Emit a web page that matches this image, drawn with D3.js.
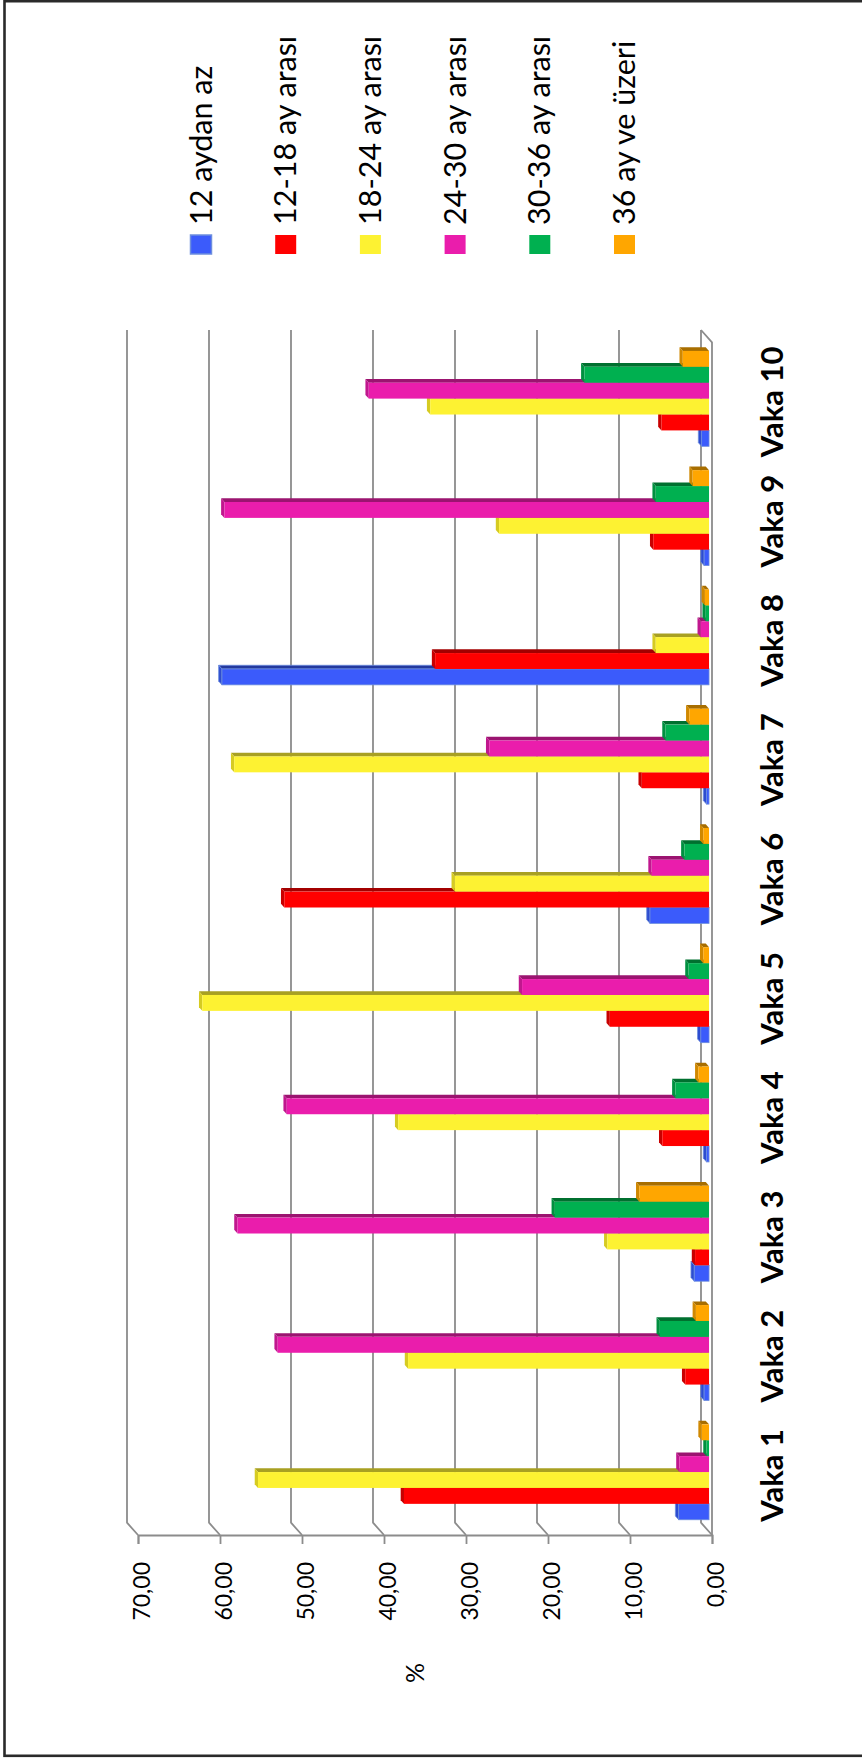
<!DOCTYPE html>
<html>
<head>
<meta charset="utf-8">
<script src="https://cdn.jsdelivr.net/npm/d3@7/dist/d3.min.js"></script>
<style>
  html, body { margin: 0; padding: 0; background: #fff; }
  svg { display: block; }
  text { font-family: Lato, "Open Sans", "Liberation Sans", sans-serif; fill: #000; }
</style>
</head>
<body>
<svg id="chart" width="862" height="1760"></svg>
<script>
// Cases (categories) and age-band series, in percent
const categories = ["Vaka 1", "Vaka 2", "Vaka 3", "Vaka 4", "Vaka 5",
                    "Vaka 6", "Vaka 7", "Vaka 8", "Vaka 9", "Vaka 10"];
const seriesNames = ["12 aydan az", "12-18 ay arası", "18-24 ay arası",
                     "24-30 ay arası", "30-36 ay arası", "36 ay ve üzeri"];
const under12   = [3.7, 0.6, 1.8, 0.3, 1.0, 7.2, 0.3, 59.4, 0.6, 0.9];
const m12to18   = [37.2, 2.9, 1.7, 5.7, 12.1, 51.8, 8.2, 33.4, 6.8, 5.8];
const m18to24   = [55.0, 36.7, 12.4, 37.9, 61.8, 31.0, 57.9, 6.5, 25.6, 34.0];
const m24to30   = [3.6, 52.6, 57.5, 51.5, 22.8, 7.0, 26.8, 1.0, 59.1, 41.5];
const m30to36   = [0.3, 6.0, 18.8, 4.1, 2.5, 3.0, 5.3, 0.4, 6.5, 15.2];
const over36    = [0.9, 1.6, 8.5, 1.3, 0.7, 0.7, 2.4, 0.5, 2.0, 3.2];
const seriesValues = [under12, m12to18, m18to24, m24to30, m30to36, over36];
const valueTicks = [0, 10, 20, 30, 40, 50, 60, 70];
const axisTitle = "%";

// face colours: front, top (depth side), end cap
const palette = [
  { front: "#3b5bfb", top: "#24399e", end: "#2d4cd0", stroke: "#6d8ede" },
  { front: "#ff0000", top: "#a30000", end: "#c80000", stroke: null },
  { front: "#fdf232", top: "#a8a022", end: "#d6cb22", stroke: null },
  { front: "#ea1dac", top: "#9b1470", end: "#c0178e", stroke: null },
  { front: "#00b050", top: "#00702f", end: "#009040", stroke: null },
  { front: "#ffa600", top: "#a86e00", end: "#d08800", stroke: null }
];

const svg = d3.select("#chart");

// outer frame
svg.append("rect")
  .attr("x", 4.5).attr("y", 1.2).attr("width", 1000).attr("height", 1754.6)
  .attr("fill", "none").attr("stroke", "#2a2a2a").attr("stroke-width", 2.6);

// oblique projection: d = 0 back wall, d = 1 front plane
const DX = 11, DY = 12.3;
const P = (xf, yf, d) => [xf - DX * (1 - d), yf - DY * (1 - d)];

const plotTop = 342.3, plotBottom = 1535;
const x = d3.scaleLinear().domain([0, 70]).range([712, 138]);
const y = d3.scaleBand()
  .domain(categories.slice().reverse())
  .range([plotTop, plotBottom])
  .paddingInner(0.2).paddingOuter(0.1);
const yInner = d3.scaleBand().domain(seriesNames).range([y.bandwidth(), 0]);

const gridColor = "#8c8c8c";

// back-wall gridlines bending onto the side wall
const grid = svg.append("g").attr("fill", "none").attr("stroke", gridColor).attr("stroke-width", 1.8);
grid.selectAll("path.grid").data(valueTicks).join("path")
  .attr("class", "grid")
  .attr("d", v => {
    const a = P(x(v), plotTop, 0), b = P(x(v), plotBottom, 0), c = P(x(v), plotBottom, 1);
    return `M${a}L${b}L${c}`;
  });
// floor edge at zero
grid.append("path").attr("d", () => {
  const a = P(x(0), plotTop, 0), b = P(x(0), plotTop, 1), c = P(x(0), plotBottom, 1);
  return `M${a}L${b}L${c}`;
});

// value axis
const fmt = v => d3.format(".2f")(v).replace(".", ",");
const xAxis = svg.append("g")
  .attr("transform", `translate(0,${plotBottom})`)
  .call(d3.axisBottom(x).tickValues(valueTicks).tickSize(9).tickSizeOuter(9).tickFormat(fmt));
xAxis.selectAll("path, line").attr("stroke", gridColor).attr("stroke-width", 1.8);
xAxis.selectAll("text")
  .attr("x", 0).attr("y", 0).attr("dy", 0)
  .attr("transform", "translate(11.5,27) rotate(-90)")
  .attr("text-anchor", "end")
  .style("font-size", "23px")
  .style("font-family", "Lato, 'Open Sans', sans-serif")
  .attr("fill", "#000");

svg.append("text")
  .attr("transform", "translate(424,1673) rotate(-90)")
  .attr("text-anchor", "middle")
  .style("font-size", "25px")
  .text(axisTitle);

// bars
const dFront = 0.73, dBack = 0.43;
const bars = svg.append("g");
categories.forEach((cat, ci) => {
  const g = bars.append("g");
  seriesNames.forEach((s, si) => {
    const v = seriesValues[si][ci];
    const col = palette[si];
    const y0 = y(cat) + yInner(s), y1 = y0 + yInner.bandwidth();
    const xl = x(v), xr = x(0);
    const poly = pts => pts.map(p => p.join(",")).join(" ");
    const stroke = col.stroke || "none";
    // depth side
    g.append("polygon")
      .attr("points", poly([P(xl, y0, dFront), P(xr, y0, dFront), P(xr, y0, dBack), P(xl, y0, dBack)]))
      .attr("fill", col.top).attr("stroke", stroke).attr("stroke-width", 0.8);
    // end cap
    g.append("polygon")
      .attr("points", poly([P(xl, y0, dFront), P(xl, y1, dFront), P(xl, y1, dBack), P(xl, y0, dBack)]))
      .attr("fill", col.end).attr("stroke", stroke).attr("stroke-width", 0.8);
    // front face
    const f0 = P(xl, y0, dFront), f1 = P(xr, y1, dFront);
    g.append("rect")
      .attr("x", f0[0]).attr("y", f0[1])
      .attr("width", f1[0] - f0[0]).attr("height", f1[1] - f0[1])
      .attr("fill", col.front).attr("stroke", stroke).attr("stroke-width", 0.8);
  });
});

// category axis labels
const yAxis = svg.append("g")
  .call(d3.axisRight(y).tickSize(0));
yAxis.select(".domain").remove();
yAxis.selectAll("text")
  .attr("x", 0).attr("dy", 0)
  .attr("transform", "translate(783,0) rotate(-90)")
  .attr("text-anchor", "middle")
  .style("font-size", "31px")
  .style("font-weight", "bold")
  .style("font-family", "Lato, 'Open Sans', sans-serif")
  .attr("fill", "#000");

// legend
const legend = svg.append("g");
const legendX = i => 201 + i * 84.7;
const items = legend.selectAll("g.item").data(seriesNames).join("g")
  .attr("class", "item");
items.append("rect")
  .attr("x", (d, i) => legendX(i) - 10.5).attr("y", 235)
  .attr("width", 21).attr("height", 19)
  .attr("fill", (d, i) => palette[i].front)
  .attr("stroke", (d, i) => palette[i].stroke || "none").attr("stroke-width", 1.5);
items.append("text")
  .attr("transform", (d, i) => `translate(${legendX(i) + 10.5},225) rotate(-90)`)
  .attr("text-anchor", "start")
  .style("font-size", "30.5px")
  .text(d => d);
</script>
</body>
</html>
